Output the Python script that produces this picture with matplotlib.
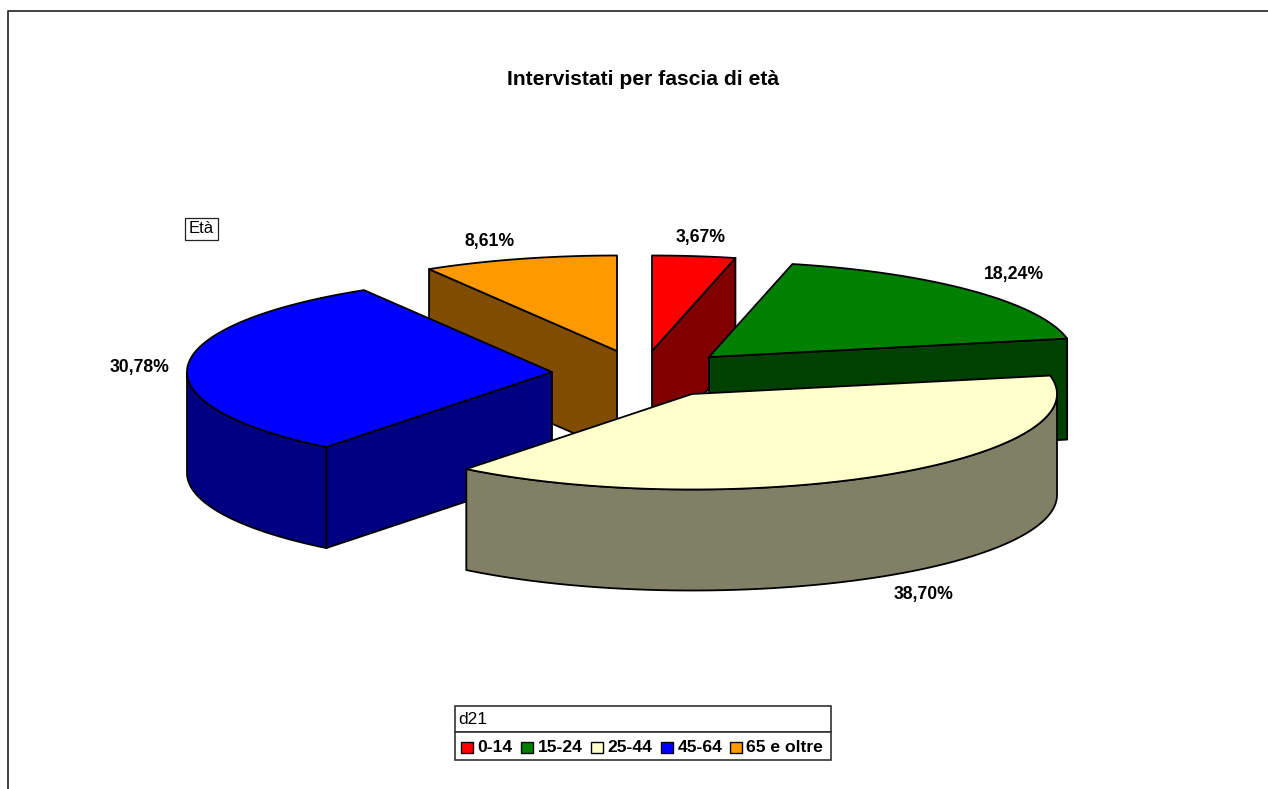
import matplotlib
matplotlib.use('Agg')
import matplotlib.pyplot as plt
from matplotlib.patches import Polygon, Rectangle
import numpy as np

plt.rcParams['font.family'] = ['Liberation Sans', 'DejaVu Sans']

# data
title = 'Intervistati per fascia di età'
categories = ['0-14', '15-24', '25-44', '45-64', '65 e oltre']
values = [3.67, 18.24, 38.70, 30.78, 8.61]
value_labels = ['3,67%', '18,24%', '38,70%', '30,78%', '8,61%']
series_name = 'Età'
legend_title = 'd21'

# styles and layout (pixels)
top_colors = ['#FF0000', '#008000', '#FFFFCC', '#0000FF', '#FF9900']
side_colors = ['#800000', '#004000', '#808066', '#000080', '#804D00']
centres = [(652, 351), (709, 357), (692, 394), (552, 372), (617, 351)]
label_pos = [(701, 237), (1014, 275), (924, 594), (140, 367), (490, 241)]
draw_order = [4, 0, 1, 3, 2]
rx, ry, depth = 365, 95.5, 101
W, H = 1268, 789

fig = plt.figure(figsize=(W/100, H/100), dpi=100)
ax = fig.add_axes([0, 0, 1, 1])
ax.set_xlim(0, W)
ax.set_ylim(H, 0)
ax.axis('off')

# outer frame, only left and top are inside the picture
ax.plot([8, 8, W], [H, 11, 11], color='#333333', lw=1.3)

def arc(cx, cy, a0, a1):
    t = np.radians(np.linspace(a0, a1, 200))
    return np.column_stack([cx + rx*np.sin(t), cy - ry*np.cos(t)])

def add_poly(pts, color):
    ax.add_patch(Polygon(pts, closed=True, facecolor=color, edgecolor='black', lw=1.3, joinstyle='round'))

# slice angles, clockwise from the top
ends = np.cumsum(values) / np.sum(values) * 360
starts = np.r_[0, ends[:-1]]

for i in draw_order:
    cx, cy = centres[i]
    a0, a1 = starts[i], ends[i]
    down = np.array([0, depth])
    apex = np.array([cx, cy])
    # cut face on the clockwise end, seen when it faces the viewer
    if np.cos(np.radians(a1 + 90)) < 0:
        p = arc(cx, cy, a1, a1)[0]
        add_poly([apex, p, p + down, apex + down], side_colors[i])
    # cut face on the start side
    if np.cos(np.radians(a0 - 90)) < 0:
        p = arc(cx, cy, a0, a0)[0]
        add_poly([apex, p, p + down, apex + down], side_colors[i])
    # outer wall, front half of the ellipse only
    lo, hi = max(a0, 90), min(a1, 270)
    if lo < hi:
        wall = arc(cx, cy, lo, hi)
        add_poly(np.vstack([wall, (wall + down)[::-1]]), side_colors[i])
    add_poly(np.vstack([apex, arc(cx, cy, a0, a1)]), top_colors[i])

bold = dict(fontweight='bold', ha='center', va='center', color='black')
ax.text(643, 79, title, fontsize=15.2, **bold)
for lab, (x, y) in zip(value_labels, label_pos):
    ax.text(x, y, lab, fontsize=12.7, **bold)

# series name box
ax.add_patch(Rectangle((185, 217.5), 32.5, 22, facecolor='white', edgecolor='#222222', lw=0.9))
ax.text(201.5, 228.5, series_name, fontsize=12, ha='center', va='center')

# legend
ax.add_patch(Rectangle((455, 706), 376, 26, facecolor='white', edgecolor='#333333', lw=1.2))
ax.add_patch(Rectangle((455, 732), 376, 28, facecolor='white', edgecolor='#333333', lw=1.2))
ax.text(458, 719, legend_title, fontsize=12.5, ha='left', va='center')
marker_x = [461, 521, 591, 661, 730]
for cat, col, mx in zip(categories, top_colors, marker_x):
    ax.add_patch(Rectangle((mx, 741.5), 12, 11.5, facecolor=col, edgecolor='black', lw=1))
    ax.text(mx + 16.5, 747, cat, fontsize=12.6, fontweight='bold', ha='left', va='center')

fig.savefig('out.png', dpi=100)
